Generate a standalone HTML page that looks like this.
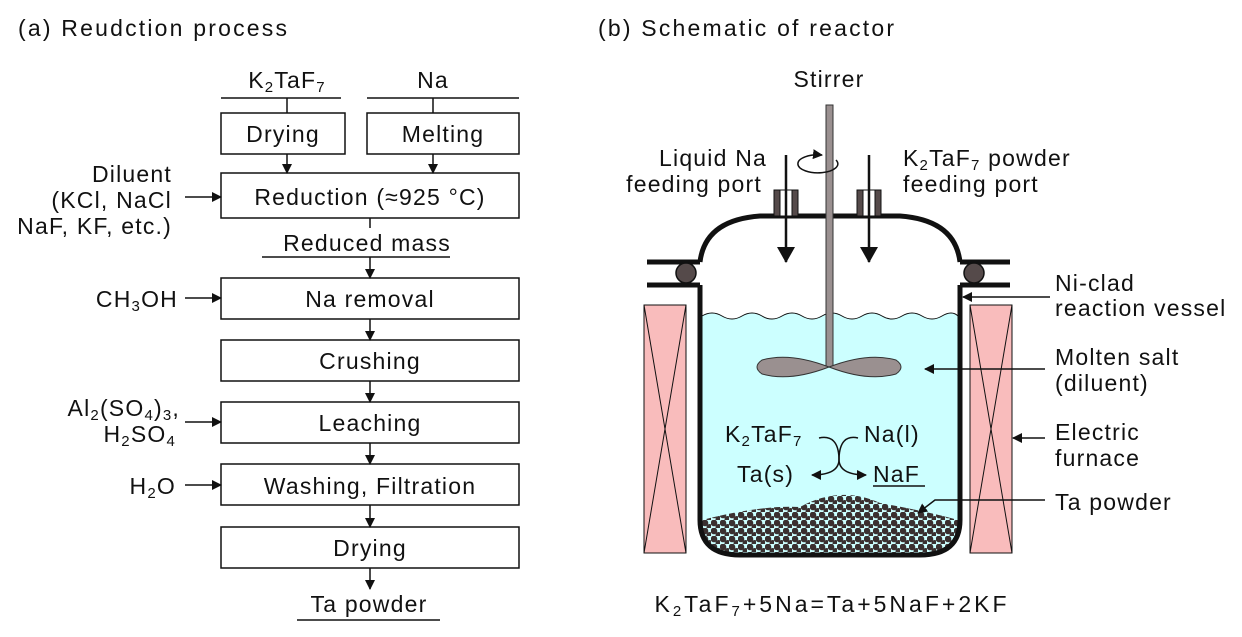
<!DOCTYPE html>
<html><head><meta charset="utf-8"><style>
html,body{margin:0;padding:0;background:#fff;}
svg text{font-family:"Liberation Sans",Arial,sans-serif;fill:#111;letter-spacing:1.2px;}
</style></head><body>
<svg width="1242" height="632" viewBox="0 0 1242 632" xmlns="http://www.w3.org/2000/svg">
<defs>
<marker id="ah" markerWidth="10" markerHeight="10" refX="9" refY="5" orient="auto" markerUnits="userSpaceOnUse"><path d="M0,0 L10,5 L0,10 Z" fill="#111"/></marker>
<marker id="ahb" markerWidth="16" markerHeight="18" refX="15" refY="9" orient="auto" markerUnits="userSpaceOnUse"><path d="M0,0 L16,9 L0,18 Z" fill="#111"/></marker>
<pattern id="dots" width="9" height="8" patternUnits="userSpaceOnUse"><circle cx="3" cy="3" r="3.3" fill="#3a3030"/><circle cx="7.5" cy="7" r="3" fill="#3a3030"/></pattern>
<clipPath id="bot"><path d="M702,520 Q760,505 800,507 Q840,485 880,503 Q930,512 958,520 L958,520 Q958,553 920,553 L740,553 Q702,553 702,520 Z"/></clipPath>
</defs>
<g font-size="23">
<text x="18" y="36" style="letter-spacing:2.2px">(a) Reudction process</text>
<text x="598" y="36" style="letter-spacing:2.2px">(b) Schematic of reactor</text>
</g>
<!-- left flow -->
<g stroke="#111" stroke-width="1.5" fill="none">
<line x1="221" y1="98" x2="341" y2="98"/><line x1="367" y1="98" x2="519" y2="98"/>
<line x1="287" y1="98" x2="287" y2="113"/><line x1="433" y1="98" x2="433" y2="113"/>
<rect x="221" y="113" width="124" height="41"/><rect x="367" y="113" width="152" height="41"/>
<rect x="221" y="173" width="298" height="45"/>
<line x1="262" y1="257" x2="450" y2="257"/>
<rect x="221" y="278" width="298" height="41"/>
<rect x="221" y="340" width="298" height="41"/>
<rect x="221" y="402" width="298" height="41"/>
<rect x="221" y="464" width="298" height="41"/>
<rect x="221" y="527" width="298" height="41"/>
<line x1="297" y1="620" x2="440" y2="620"/>
<line x1="287" y1="154" x2="287" y2="173" marker-end="url(#ah)"/>
<line x1="433" y1="154" x2="433" y2="173" marker-end="url(#ah)"/>
<line x1="370" y1="218" x2="370" y2="228"/>
<line x1="370" y1="257" x2="370" y2="278" marker-end="url(#ah)"/>
<line x1="370" y1="319" x2="370" y2="340" marker-end="url(#ah)"/>
<line x1="370" y1="381" x2="370" y2="402" marker-end="url(#ah)"/>
<line x1="370" y1="443" x2="370" y2="464" marker-end="url(#ah)"/>
<line x1="370" y1="505" x2="370" y2="527" marker-end="url(#ah)"/>
<line x1="370" y1="568" x2="370" y2="589" marker-end="url(#ah)"/>
<line x1="185" y1="197" x2="221" y2="197" marker-end="url(#ah)"/>
<line x1="185" y1="298" x2="221" y2="298" marker-end="url(#ah)"/>
<line x1="185" y1="422" x2="221" y2="422" marker-end="url(#ah)"/>
<line x1="185" y1="485" x2="221" y2="485" marker-end="url(#ah)"/>
</g>
<g font-size="23" text-anchor="middle">
<text x="287" y="88">K<tspan font-size="15" dy="4">2</tspan><tspan dy="-4">TaF</tspan><tspan font-size="15" dy="4">7</tspan></text>
<text x="433" y="88">Na</text>
<text x="283" y="142">Drying</text>
<text x="443" y="142">Melting</text>
<text x="370" y="205">Reduction (≈925 °C)</text>
<text x="367" y="251">Reduced mass</text>
<text x="370" y="307">Na removal</text>
<text x="370" y="369">Crushing</text>
<text x="370" y="431">Leaching</text>
<text x="370" y="494">Washing, Filtration</text>
<text x="370" y="556">Drying</text>
<text x="369" y="612">Ta powder</text>
</g>
<g font-size="23" text-anchor="end">
<text x="172" y="182">Diluent</text>
<text x="172" y="208">(KCl, NaCl</text>
<text x="172" y="234">NaF, KF, etc.)</text>
<text x="178" y="307">CH<tspan font-size="15" dy="4">3</tspan><tspan dy="-4">OH</tspan></text>
<text x="180" y="416">Al<tspan font-size="15" dy="4">2</tspan><tspan dy="-4">(SO</tspan><tspan font-size="15" dy="4">4</tspan><tspan dy="-4">)</tspan><tspan font-size="15" dy="4">3</tspan><tspan dy="-4">,</tspan></text>
<text x="176" y="442">H<tspan font-size="15" dy="4">2</tspan><tspan dy="-4">SO</tspan><tspan font-size="15" dy="4">4</tspan></text>
<text x="176" y="494">H<tspan font-size="15" dy="4">2</tspan><tspan dy="-4">O</tspan></text>
</g>
<!-- reactor -->
<path d="M702,316 Q712,310 722,316 T742,316 T762,316 T782,316 T802,316 T822,316 T842,316 T862,316 T882,316 T902,316 T922,316 T942,316 T958,316 L958,520 Q958,553 920,553 L740,553 Q702,553 702,520 Z" fill="#ccffff" stroke="#111" stroke-width="1"/>
<rect x="700" y="480" width="260" height="80" fill="url(#dots)" clip-path="url(#bot)"/>
<g fill="#f9bcbc" stroke="#111" stroke-width="1">
<rect x="644" y="305" width="42" height="248"/><rect x="970" y="305" width="42" height="248"/>
</g>
<g stroke="#111" stroke-width="1">
<path d="M644,305 L686,553 M686,305 L644,553 M970,305 L1012,553 M1012,305 L970,553" fill="none"/>
</g>
<g stroke="#111" stroke-width="5" fill="none">
<path d="M700,285 L700,520 Q700,555 740,555 L920,555 Q960,555 960,520 L960,285"/>
<path d="M700,262 Q705,220 760,216 L900,216 Q955,220 960,262"/>
<line x1="647" y1="262" x2="700" y2="262"/><line x1="647" y1="285" x2="700" y2="285"/>
<line x1="960" y1="262" x2="1010" y2="262"/><line x1="960" y1="285" x2="1010" y2="285"/>
</g>
<circle cx="686" cy="273" r="10" fill="#554a4a" stroke="#111" stroke-width="1.5"/>
<circle cx="974" cy="273" r="10" fill="#554a4a" stroke="#111" stroke-width="1.5"/>
<!-- ports -->
<g fill="#554a4a" stroke="#111" stroke-width="1">
<rect x="774" y="190" width="24" height="26" fill="#fff"/><rect x="774" y="190" width="6" height="26"/><rect x="792" y="190" width="6" height="26"/>
<rect x="857" y="190" width="24" height="26" fill="#fff"/><rect x="857" y="190" width="6" height="26"/><rect x="875" y="190" width="6" height="26"/>
</g>
<g stroke="#111" stroke-width="2.5">
<line x1="786" y1="155" x2="786" y2="262" marker-end="url(#ahb)"/>
<line x1="869" y1="155" x2="869" y2="262" marker-end="url(#ahb)"/>
</g>
<!-- stirrer -->
<rect x="826" y="105" width="7" height="262" fill="#9a9090" stroke="#333" stroke-width="1"/>
<path d="M829,367 Q790,352 762,360 Q752,367 762,374 Q790,382 829,367 Z" fill="#9a9090" stroke="#333"/>
<path d="M829,367 Q868,352 896,360 Q906,367 896,374 Q868,382 829,367 Z" fill="#9a9090" stroke="#333"/>
<path d="M836,160 A20,9 0 1,1 822,155" fill="none" stroke="#111" stroke-width="1.5" marker-end="url(#ah)"/>
<!-- reaction -->
<g stroke="#111" stroke-width="1.5" fill="none">
<path d="M819,438 Q838,434 839,458 Q840,475 812,475" marker-end="url(#ah)"/>
<path d="M858,438 Q840,434 839,458 Q838,475 866,475" marker-end="url(#ah)"/>
<line x1="873" y1="486" x2="925" y2="486"/>
<line x1="1050" y1="297" x2="963" y2="297" marker-end="url(#ah)"/>
<line x1="1045" y1="369" x2="925" y2="369" marker-end="url(#ah)"/>
<line x1="1045" y1="438" x2="1013" y2="438" marker-end="url(#ah)"/>
<polyline points="1045,500 935,500 918,513" marker-end="url(#ah)"/>
</g>
<g font-size="23">
<text x="829" y="87" text-anchor="middle">Stirrer</text>
<text x="767" y="166" text-anchor="end">Liquid Na</text>
<text x="762" y="192" text-anchor="end">feeding port</text>
<text x="903" y="166">K<tspan font-size="15" dy="4">2</tspan><tspan dy="-4">TaF</tspan><tspan font-size="15" dy="4">7</tspan><tspan dy="-4"> powder</tspan></text>
<text x="903" y="192">feeding port</text>
<text x="1055" y="291">Ni-clad</text>
<text x="1055" y="316">reaction vessel</text>
<text x="1055" y="365">Molten salt</text>
<text x="1055" y="391">(diluent)</text>
<text x="1055" y="440">Electric</text>
<text x="1055" y="466">furnace</text>
<text x="1055" y="510">Ta powder</text>
<text x="725" y="442">K<tspan font-size="15" dy="4">2</tspan><tspan dy="-4">TaF</tspan><tspan font-size="15" dy="4">7</tspan></text>
<text x="864" y="442">Na(l)</text>
<text x="737" y="482">Ta(s)</text>
<text x="873" y="482">NaF</text>
<text x="832" y="612" text-anchor="middle" style="letter-spacing:3px">K<tspan font-size="15" dy="4">2</tspan><tspan dy="-4">TaF</tspan><tspan font-size="15" dy="4">7</tspan><tspan dy="-4">+5Na=Ta+5NaF+2KF</tspan></text>
</g>
</svg>
</body></html>
